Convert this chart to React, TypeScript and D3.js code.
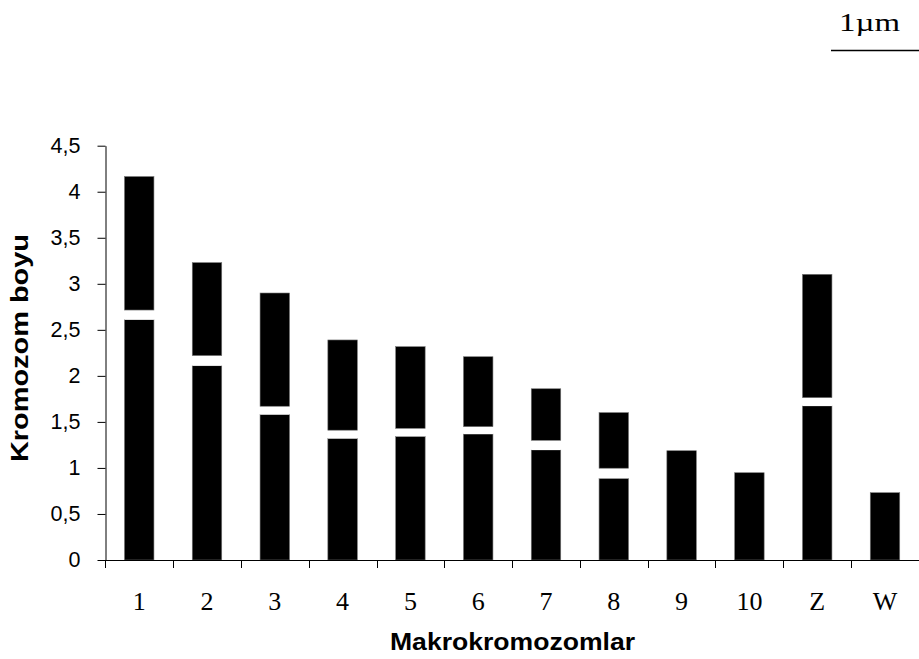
import React, { useEffect, useRef } from "react";
import * as d3 from "d3";

const categories = ["1", "2", "3", "4", "5", "6", "7", "8", "9", "10", "Z", "W"];
const longArm = [2.61, 2.11, 1.58, 1.32, 1.343, 1.368, 1.195, 0.887, 1.187, 0.948, 1.673, 0.731];
const centromere = [0.105, 0.11, 0.09, 0.09, 0.087, 0.08, 0.105, 0.11, 0, 0, 0.09, 0];
const shortArm = [1.45, 1.01, 1.23, 0.98, 0.887, 0.76, 0.56, 0.604, 0, 0, 1.34, 0];
const yTicks = [0, 0.5, 1, 1.5, 2, 2.5, 3, 3.5, 4, 4.5];
const yTickLabels = ["0", "0,5", "1", "1,5", "2", "2,5", "3", "3,5", "4", "4,5"];
const segKeys = ["long", "gap", "short"];
const segColors = ["#000000", "#ffffff", "#000000"];

const W = 919;
const H = 659;

export default function App() {
  const ref = useRef<SVGSVGElement>(null);

  useEffect(() => {
    const svg = d3.select(ref.current);
    svg.selectAll("*").remove();

    const x = d3
      .scaleBand<string>()
      .domain(categories)
      .range([105.3, 918.9])
      .paddingInner(0.565)
      .paddingOuter(0.2825);
    const y = d3.scaleLinear().domain([0, 4.5]).range([560, 145.7]);

    const rows = categories.map((c, i) => ({
      cat: c,
      long: longArm[i],
      gap: centromere[i],
      short: shortArm[i],
    }));
    const stacked = d3.stack<any>().keys(segKeys)(rows);

    const g = svg.append("g");
    stacked.forEach((layer, li) => {
      g.append("g")
        .selectAll("rect")
        .data(layer.filter((d) => d[1] - d[0] > 0))
        .join("rect")
        .attr("x", (d) => x(d.data.cat)!)
        .attr("width", x.bandwidth())
        .attr("y", (d) => y(d[1]))
        .attr("height", (d) => y(d[0]) - y(d[1]))
        .attr("fill", segColors[li])
        .attr("stroke", li === 1 ? "none" : "#777")
        .attr("stroke-width", 0.6);
    });

    // Y axis
    const yAxis = d3
      .axisLeft(y)
      .tickValues(yTicks)
      .tickFormat((d, i) => yTickLabels[i])
      .tickSize(8)
      .tickSizeOuter(0)
      .tickPadding(17);
    const ya = svg.append("g").attr("transform", "translate(105.5,0)").call(yAxis);
    ya.selectAll("text")
      .attr("font-family", "'Liberation Sans', Arial, sans-serif")
      .attr("font-size", 21.5)
      .attr("fill", "#000");
    ya.selectAll("line").attr("stroke", "#000");
    ya.select(".domain").attr("stroke", "#000");

    // X axis line
    svg
      .append("line")
      .attr("x1", 105.5)
      .attr("x2", 919)
      .attr("y1", 560.5)
      .attr("y2", 560.5)
      .attr("stroke", "#000");
    // category boundary ticks
    const step = x.step();
    const bounds = d3.range(categories.length + 1).map((i) => x.range()[0] + i * step);
    svg
      .append("g")
      .selectAll("line")
      .data(bounds)
      .join("line")
      .attr("x1", (d) => Math.round(d) + 0.5)
      .attr("x2", (d) => Math.round(d) + 0.5)
      .attr("y1", 560)
      .attr("y2", 568)
      .attr("stroke", "#000");

    svg
      .append("g")
      .selectAll("text")
      .data(categories)
      .join("text")
      .attr("x", (d) => x(d)! + x.bandwidth() / 2)
      .attr("y", 610)
      .attr("text-anchor", "middle")
      .attr("font-family", "'Liberation Serif', 'Times New Roman', serif")
      .attr("font-size", 26)
      .text((d) => d);

    // Axis titles
    svg
      .append("text")
      .attr("x", 512.5)
      .attr("y", 650)
      .attr("text-anchor", "middle")
      .attr("font-family", "'Liberation Sans', Arial, sans-serif")
      .attr("font-weight", "bold")
      .attr("font-size", 23)
      .attr("textLength", 245)
      .attr("lengthAdjust", "spacingAndGlyphs")
      .text("Makrokromozomlar");

    svg
      .append("text")
      .attr("transform", "translate(28,348) rotate(-90)")
      .attr("text-anchor", "middle")
      .attr("font-family", "'Liberation Sans', Arial, sans-serif")
      .attr("font-weight", "bold")
      .attr("font-size", 23)
      .attr("textLength", 228)
      .attr("lengthAdjust", "spacingAndGlyphs")
      .text("Kromozom boyu");

    // scale bar
    svg
      .append("text")
      .attr("x", 869.5)
      .attr("y", 31)
      .attr("text-anchor", "middle")
      .attr("font-family", "'Liberation Serif', 'Times New Roman', serif")
      .attr("font-size", 25)
      .attr("textLength", 61)
      .attr("lengthAdjust", "spacingAndGlyphs")
      .text("1µm");
    svg
      .append("line")
      .attr("x1", 831)
      .attr("x2", 919)
      .attr("y1", 50.5)
      .attr("y2", 50.5)
      .attr("stroke", "#000")
      .attr("stroke-width", 1.5);
  }, []);

  return (
    <svg
      ref={ref}
      width={W}
      height={H}
      style={{ position: "absolute", left: 0, top: 0, background: "#fff" }}
    />
  );
}
